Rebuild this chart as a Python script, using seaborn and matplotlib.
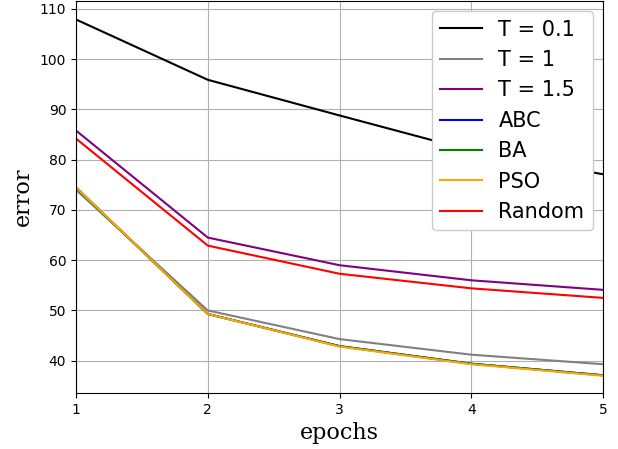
import numpy as np
import pandas as pd
import seaborn as sns
import matplotlib
matplotlib.use('Agg')
import matplotlib.pyplot as plt

# data
epochs = [1, 2, 3, 4, 5]
t01 = [107.9, 95.9, 88.8, 81.8, 77.1]
t1 = [74.0, 50.0, 44.3, 41.2, 39.3]
t15 = [85.8, 64.5, 59.0, 56.0, 54.1]
abc = [74.5, 49.3, 42.9, 39.4, 37.1]
ba = [74.4, 49.3, 42.9, 39.4, 37.1]
pso = [74.5, 49.3, 42.8, 39.3, 37.0]
rand = [84.2, 62.9, 57.3, 54.4, 52.5]

names = ['T = 0.1', 'T = 1', 'T = 1.5', 'ABC', 'BA', 'PSO', 'Random']
series = [t01, t1, t15, abc, ba, pso, rand]
colors = ['black', 'gray', 'purple', 'blue', 'green', 'orange', 'red']

rows = []
for n, s in zip(names, series):
    for e, v in zip(epochs, s):
        rows.append({'epoch': e, 'error': v, 'method': n})
df = pd.DataFrame(rows)

fig, ax = plt.subplots(figsize=(6.18, 4.49), dpi=100)
fig.subplots_adjust(left=0.123, right=0.976, bottom=0.125, top=0.998)

sns.lineplot(data=df, x='epoch', y='error', hue='method', hue_order=names,
             palette=dict(zip(names, colors)), linewidth=1.5, ax=ax)

ax.set_xlim(1, 5)
ax.set_xticks(epochs)
ax.set_yticks(range(40, 111, 10))
ax.set_ylim(33.6, 111.6)
ax.grid(True, color='#b0b0b0', linewidth=0.8)
ax.tick_params(labelsize=10)
ax.set_xlabel('epochs', family='DejaVu Serif', fontsize=16)
ax.set_ylabel('error', family='DejaVu Serif', fontsize=16)

handles, labels = ax.get_legend_handles_labels()
ax.legend(handles, labels, loc='upper right', fontsize=15, framealpha=1)

fig.savefig('out.png', dpi=100)
